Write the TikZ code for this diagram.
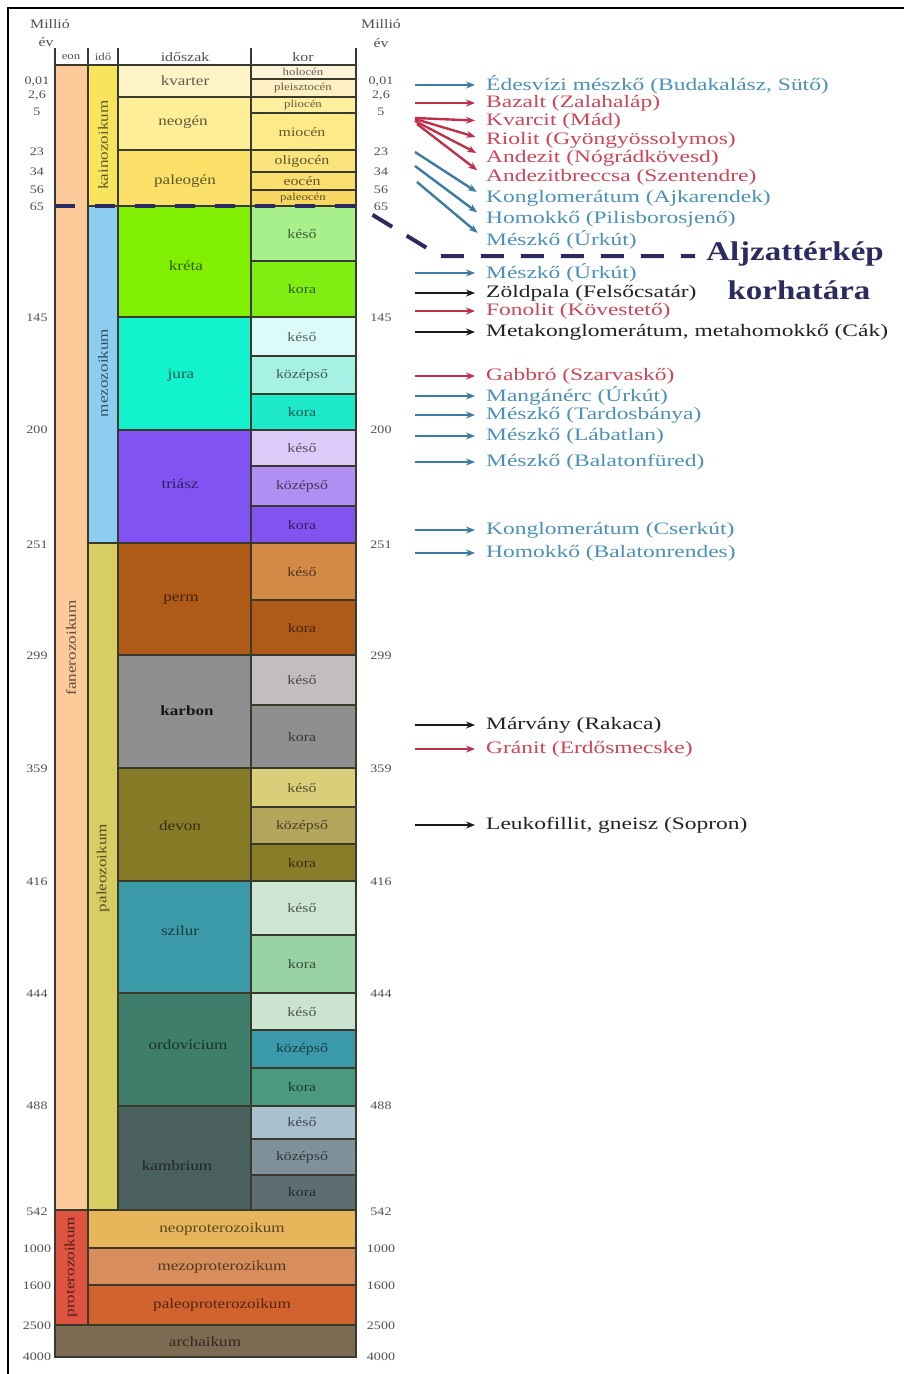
\documentclass[tikz,border=0pt]{standalone}
\usepackage{fontspec}
\setmainfont{Liberation Serif}[FakeStretch=1.22]
\newfontfamily\itemfont{Liberation Serif}[FakeStretch=1.34]
\usetikzlibrary{arrows.meta}
\definecolor{lc}{HTML}{3A3A2C}
\definecolor{navy}{HTML}{2B2B62}
\definecolor{numc}{HTML}{505050}
\definecolor{bA}{HTML}{3A7CA5}
\definecolor{bT}{HTML}{4A90BA}
\definecolor{rA}{HTML}{C0304A}
\definecolor{rT}{HTML}{D04456}
\definecolor{kA}{HTML}{1A1A1A}
\definecolor{kT}{HTML}{222222}
\begin{document}
\begin{tikzpicture}[x=1pt,y=-1pt,
  cell/.style={draw=lc,line width=1.4pt},
  lab/.style={font=\fontsize{14}{16}\selectfont,text=black,text opacity=0.62,inner sep=0pt},
  eplab/.style={font=\fontsize{13}{15}\selectfont,text=black,text opacity=0.62,inner sep=0pt},
  smlab/.style={font=\fontsize{10.5}{12}\selectfont,text=black,text opacity=0.62,inner sep=0pt},
  num/.style={font=\fontsize{11.5}{13}\selectfont,text=numc,inner sep=0pt},
  hdr/.style={font=\fontsize{13}{15}\selectfont,text=numc,inner sep=0pt},
  item/.style={font=\itemfont\fontsize{17.5}{19}\selectfont,anchor=west,inner sep=0pt},
  itemarrow/.style={line width=2.4pt,-{Stealth[length=9pt,width=7pt]},shorten >=11pt},
  agebound/.style={draw=navy,line width=4pt}
]
\useasboundingbox (0,0) rectangle (904,1374);
\fill[white] (0,0) rectangle (904,1374);
\draw[line width=1.3pt] (8,1374) -- (8,8) -- (904,8);

% eon column
\fill[cell,fill={rgb,255:red,253;green,202;blue,154}] (55,65) rectangle (88,1210);
\fill[cell,fill={rgb,255:red,223;green,84;blue,64}] (55,1210) rectangle (88,1325);
% era column
\fill[cell,fill={rgb,255:red,248;green,228;blue,92}] (88,65) rectangle (118,206);
\fill[cell,fill={rgb,255:red,141;green,205;blue,242}] (88,206) rectangle (118,543);
\fill[cell,fill={rgb,255:red,215;green,205;blue,98}] (88,543) rectangle (118,1210);

% periods
\foreach \a/\b/\c in {65/97/FEF4C8,97/150/FEEE98,150/206/FBE06A,206/317/80F000,317/430/12F2CC,430/543/8153F2,543/655/B05A18,655/768/8F8F8F,768/881/877B28,881/993/3B9AA8,993/1106/3E7E6B,1106/1210/4B6160}{
  \definecolor{tmp}{HTML}{\c}
  \fill[cell,fill=tmp] (118,\a) rectangle (251,\b);
}
% epochs
\foreach \a/\b/\c in {65/79/FEF4DC,79/97/FEF0C2,97/113/FEEE9E,113/150/FEEA88,150/172/FBE47C,172/190/FADE70,190/206/F8D862,206/261/A8F08C,261/317/80EE12,317/356/DAFBF8,356/394/A6F1E4,394/430/1DE9CA,430/466/DCCAF8,466/506/B08EF2,506/543/8253EE,543/600/D28A46,600/655/B05A18,655/705/C2BEBE,705/768/8F8F8F,768/807/DACE7A,807/844/B4A65A,844/881/8A7C28,881/935/CCE6D2,935/993/98D1A2,993/1030/CBE4D2,1030/1068/3A9AAA,1068/1106/4A9A80,1106/1139/A9C0CE,1139/1175/7F929C,1175/1210/5D6D72}{
  \definecolor{tmp}{HTML}{\c}
  \fill[cell,fill=tmp] (251,\a) rectangle (356,\b);
}
% proterozoic and archean rows
\foreach \a/\b/\c in {1210/1248/E7B55A,1248/1285/D88E5C,1285/1325/D2622E}{
  \definecolor{tmp}{HTML}{\c}
  \fill[cell,fill=tmp] (88,\a) rectangle (356,\b);
}
\fill[cell,fill={rgb,255:red,124;green,106;blue,82}] (55,1325) rectangle (356,1357);

% header
\draw[lc,line width=1.4pt] (55,65) -- (356,65);
\foreach \x in {55,88,118,251,356}{ \draw[lc,line width=1.4pt] (\x,48) -- (\x,65); }
\node[hdr] (hmL) at (50,24) {Millió};
\node[hdr] (heL) at (46,42) {év};
\node[hdr] (hmR) at (381,24) {Millió};
\node[hdr] (heR) at (381,43) {év};
\node[hdr,font=\fontsize{10.5}{12}\selectfont] (hEon) at (71,57) {eon};
\node[hdr,font=\fontsize{10.5}{12}\selectfont] (hIdo) at (103,57) {idő};
\node[hdr] (hPer) at (185,57) {időszak};
\node[hdr] (hKor) at (303,57) {kor};

% rotated eon / era labels
\node[lab,rotate=90] (lfan) at (71,648) {fanerozoikum};
\node[lab,rotate=90] (lprot) at (71,1267) {proterozoikum};
\node[lab,rotate=90] (lkain) at (103,145) {kainozoikum};
\node[lab,rotate=90] (lmezo) at (103,373) {mezozoikum};
\node[lab,rotate=90] (lpal) at (103,868) {paleozoikum};

% period labels
\foreach \x/\y/\t [count=\i] in {185/81/kvarter,183/122/neogén,185/181/paleogén,186/266/kréta,181/375/jura,180/484/triász,181/600/perm,180/826/devon,180/931/szilur,188/1045/ordovícium,177/1166/kambrium}{
  \node[lab] (per\i) at (\x,\y) {\t};
}
\node[lab,text opacity=0.85,font=\fontsize{14}{16}\selectfont\bfseries] (perK) at (187,711) {karbon};

% small cenozoic epochs
\foreach \y/\t [count=\i] in {72/holocén,88/pleisztocén,105/pliocén,198/paleocén}{
  \node[smlab] (sep\i) at (303,\y) {\t};
}
% other epochs
\foreach \y/\t [count=\i] in {132/miocén,161/oligocén,181/eocén,234/késő,289/kora,337/késő,375/középső,412/kora,448/késő,486/középső,525/kora,572/késő,628/kora,680/késő,737/kora,788/késő,826/középső,863/kora,908/késő,964/kora,1012/késő,1049/középső,1087/kora,1122/késő,1157/középső,1192/kora}{
  \node[eplab] (ep\i) at (302,\y) {\t};
}
% proterozoic labels
\node[lab] (lneo) at (222,1229) {neoproterozoikum};
\node[lab] (lmez) at (222,1267) {mezoproterozikum};
\node[lab] (lpp) at (222,1305) {paleoproterozoikum};
\node[lab] (larc) at (205,1342) {archaikum};

% age numbers
\foreach \y/\t [count=\i] in {82/{0,01},96/{2,6},112/5,152/23,172/34,190/56,207/65,318/145,430/200,545/251,656/299,769/359,882/416,994/444,1106/488,1212/542,1249/1000,1286/1600,1326/2500,1357/4000}{
  \node[num] (nl\i) at (37,\y) {\t};
  \node[num] (nr\i) at (381,\y) {\t};
}

% boundary of the basement map
\coordinate (d0) at (55,206);
\coordinate (d1) at (358,206);
\coordinate (d2) at (440,256);
\coordinate (d3) at (695,256);
\draw[agebound,line width=3.2pt,dash pattern=on 20pt off 20pt] (d0) -- (d1);
\draw[agebound,dash pattern=on 23pt off 17pt,dash phase=23pt] (d1) -- (d2) -- (d3);
\node[font=\fontsize{27}{30}\selectfont\bfseries,text=navy,inner sep=0pt] (alj) at (795,254) {Aljzattérkép};
\node[font=\fontsize{27}{30}\selectfont\bfseries,text=navy,inner sep=0pt] (kor) at (799,290) {korhatára};

% rock list with arrows
\foreach \sx/\sy/\ey/\ac/\tc/\t [count=\i] in {
  415/85/85/bA/bT/{Édesvízi mészkő (Budakalász, Sütő)},
  415/103/103/rA/rT/{Bazalt (Zalahaláp)},
  415/118/121/rA/rT/{Kvarcit (Mád)},
  415/119/140/rA/rT/{Riolit (Gyöngyössolymos)},
  415/121/158/rA/rT/{Andezit (Nógrádkövesd)},
  417/124/177/rA/rT/{Andezitbreccsa (Szentendre)},
  415/152/198/bA/bT/{Konglomerátum (Ajkarendek)},
  415/166/219/bA/bT/{Homokkő (Pilisborosjenő)},
  417/182/240/bA/bT/{Mészkő (Úrkút)},
  415/273/273/bA/bT/{Mészkő (Úrkút)},
  415/293/293/kA/kT/{Zöldpala (Felsőcsatár)},
  415/311/311/rA/rT/{Fonolit (Kövestető)},
  415/332/332/kA/kT/{Metakonglomerátum, metahomokkő (Cák)},
  415/376/376/rA/rT/{Gabbró (Szarvaskő)},
  415/396/396/bA/bT/{Mangánérc (Úrkút)},
  415/415/415/bA/bT/{Mészkő (Tardosbánya)},
  415/436/436/bA/bT/{Mészkő (Lábatlan)},
  415/462/462/bA/bT/{Mészkő (Balatonfüred)},
  415/530/530/bA/bT/{Konglomerátum (Cserkút)},
  415/553/553/bA/bT/{Homokkő (Balatonrendes)},
  415/725/725/kA/kT/{Márvány (Rakaca)},
  415/749/749/rA/rT/{Gránit (Erdősmecske)},
  415/825/825/kA/kT/{Leukofillit, gneisz (Sopron)}}{
  \coordinate (s\i) at (\sx,\sy);
  \node[item,text=\tc] (t\i) at (486,\ey) {\t};
  \draw[itemarrow,draw=\ac,fill=\ac] (s\i) -- (t\i.west);
}
\end{tikzpicture}
\end{document}
